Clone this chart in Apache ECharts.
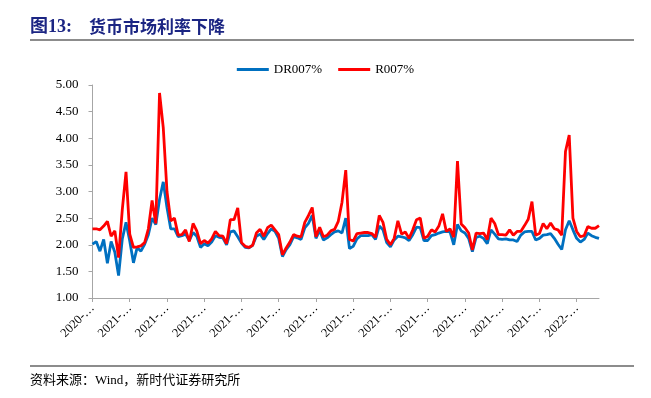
<!DOCTYPE html>
<html>
<head>
<meta charset="utf-8">
<script src="https://cdn.jsdelivr.net/npm/echarts@6/dist/echarts.min.js"></script>
<style>
  html, body { margin: 0; padding: 0; background: #fff; }
  #main { width: 651px; height: 398px; }
</style>
</head>
<body>
<div id="main"></div>
<script>
// 横轴刻度标签（原图中已被截断）
var tickLabels = ['2020-…', '2021-…', '2021-…', '2021-…', '2021-…', '2021-…', '2021-…',
  '2021-…', '2021-…', '2021-…', '2021-…', '2021-…', '2021-…', '2022-…'];
var pointsPerTick = 10;

// DR007 (%)
var dr007 = [
  2.01, 2.06, 1.88, 2.10, 1.65, 2.06, 1.86, 1.42, 2.11, 2.42,
  2.07, 1.66, 1.95, 1.88, 2.01, 2.19, 2.50, 2.38, 2.85, 3.18,
  2.70, 2.30, 2.30, 2.15, 2.17, 2.20, 2.08, 2.23, 2.16, 1.95,
  2.02, 1.98, 2.05, 2.17, 2.14, 2.13, 2.00, 2.24, 2.26, 2.15,
  2.03, 1.95, 1.94, 1.99, 2.16, 2.20, 2.10, 2.21, 2.30, 2.25,
  2.12, 1.78, 1.91, 2.00, 2.15, 2.13, 2.10, 2.32, 2.40, 2.55,
  2.12, 2.27, 2.09, 2.13, 2.19, 2.24, 2.26, 2.22, 2.50, 1.93,
  1.97, 2.11, 2.17, 2.17, 2.17, 2.19, 2.10, 2.35, 2.28, 2.04,
  1.96, 2.09, 2.16, 2.15, 2.13, 2.08, 2.19, 2.33, 2.32, 2.08,
  2.08, 2.17, 2.19, 2.22, 2.24, 2.25, 2.24, 2.00, 2.38, 2.26,
  2.22, 2.12, 1.87, 2.14, 2.16, 2.12, 2.02, 2.28, 2.20, 2.11,
  2.10, 2.11, 2.09, 2.09, 2.06, 2.18, 2.24, 2.25, 2.25, 2.09,
  2.12, 2.18, 2.19, 2.21, 2.12, 2.01, 1.91, 2.28, 2.45, 2.28,
  2.12, 2.05, 2.10, 2.22, 2.17, 2.14, 2.12
];

// R007 (%)
var r007 = [
  2.30, 2.30, 2.28, 2.35, 2.44, 2.16, 2.26, 1.76, 2.66, 3.37,
  2.20, 1.95, 1.96, 1.98, 2.04, 2.30, 2.83, 2.40, 4.85, 4.20,
  3.00, 2.45, 2.50, 2.18, 2.19, 2.28, 2.06, 2.40, 2.26, 2.02,
  2.08, 2.03, 2.11, 2.25, 2.17, 2.16, 2.02, 2.47, 2.47, 2.69,
  2.04, 1.97, 1.95, 1.99, 2.22, 2.29, 2.16, 2.32, 2.37, 2.28,
  2.19, 1.81, 1.94, 2.05, 2.19, 2.16, 2.15, 2.42, 2.55, 2.70,
  2.15, 2.33, 2.15, 2.18, 2.26, 2.29, 2.44, 2.80, 3.40, 2.10,
  2.07, 2.21, 2.22, 2.23, 2.23, 2.21, 2.14, 2.55, 2.42, 2.10,
  2.00, 2.12, 2.45, 2.20, 2.24, 2.12, 2.28, 2.47, 2.50, 2.12,
  2.16, 2.28, 2.24, 2.35, 2.58, 2.25, 2.30, 2.14, 3.57, 2.39,
  2.32, 2.22, 1.90, 2.22, 2.21, 2.22, 2.10, 2.50, 2.40, 2.19,
  2.19, 2.18, 2.28, 2.18, 2.25, 2.25, 2.36, 2.48, 2.81, 2.18,
  2.21, 2.40, 2.30, 2.41, 2.30, 2.28, 2.18, 3.75, 4.06, 2.50,
  2.25, 2.15, 2.17, 2.34, 2.31, 2.31, 2.36
];

// 每个刻度标签下挂 10 个点
var categories = [];
for (var i = 0; i < dr007.length; i++) {
  categories.push(tickLabels[Math.floor(i / pointsPerTick)]);
}

var serif = "'Liberation Serif', 'Times New Roman', serif";
var cjk = "'Liberation Serif', 'Noto Sans CJK SC', serif";

var myChart = echarts.init(document.getElementById('main'));
var option = {
  animation: false,
  backgroundColor: '#fff',
  graphic: [
    {
      type: 'text', left: 30, top: 18,
      style: { text: '图13:', fill: '#1b2583', font: "bold 18px 'Liberation Serif', 'Noto Sans CJK SC'" }
    },
    {
      type: 'text', left: 89, top: 18,
      style: { text: '货币市场利率下降', fill: '#1b2583', font: "bold 17px 'Noto Sans CJK SC'" }
    },
    {
      type: 'line', shape: { x1: 30, y1: 40, x2: 634, y2: 40 },
      style: { stroke: '#666', lineWidth: 1.5 }
    },
    {
      type: 'line', shape: { x1: 30, y1: 366, x2: 634, y2: 366 },
      style: { stroke: '#666', lineWidth: 1.5 }
    },
    {
      type: 'text', left: 30, top: 374,
      style: { text: '资料来源：Wind，新时代证券研究所', fill: '#000', font: "13px " + cjk }
    }
  ],
  legend: {
    top: 58,
    left: 'center',
    icon: 'rect',
    itemWidth: 32,
    itemHeight: 3,
    itemGap: 16,
    textStyle: { fontFamily: serif, fontSize: 13, color: '#000' },
    data: ['DR007%', 'R007%']
  },
  grid: { left: 92.5, right: 52, top: 85, bottom: 100 },
  xAxis: {
    type: 'category',
    data: categories,
    boundaryGap: false,
    axisLine: { lineStyle: { color: '#a6a6a6', width: 1 } },
    axisTick: { interval: pointsPerTick - 1, length: 4, lineStyle: { color: '#a6a6a6' } },
    axisLabel: {
      interval: pointsPerTick - 1,
      rotate: 45,
      margin: 8,
      fontFamily: serif,
      fontSize: 12.5,
      color: '#000'
    },
    splitLine: { show: false }
  },
  yAxis: {
    type: 'value',
    min: 1,
    max: 5,
    interval: 0.5,
    axisLine: { show: true, lineStyle: { color: '#a6a6a6', width: 1 } },
    axisTick: { show: true, length: 4, lineStyle: { color: '#a6a6a6' } },
    axisLabel: {
      formatter: function (v) { return v.toFixed(2); },
      fontFamily: serif,
      fontSize: 13,
      color: '#000',
      margin: 14
    },
    splitLine: { show: false }
  },
  series: [
    {
      name: 'DR007%',
      type: 'line',
      data: dr007,
      symbol: 'none',
      itemStyle: { color: '#0070c0' },
      lineStyle: { color: '#0070c0', width: 2.8 }
    },
    {
      name: 'R007%',
      type: 'line',
      data: r007,
      symbol: 'none',
      itemStyle: { color: '#ff0000' },
      lineStyle: { color: '#ff0000', width: 2.8 }
    }
  ]
};
myChart.setOption(option);
</script>
</body>
</html>
